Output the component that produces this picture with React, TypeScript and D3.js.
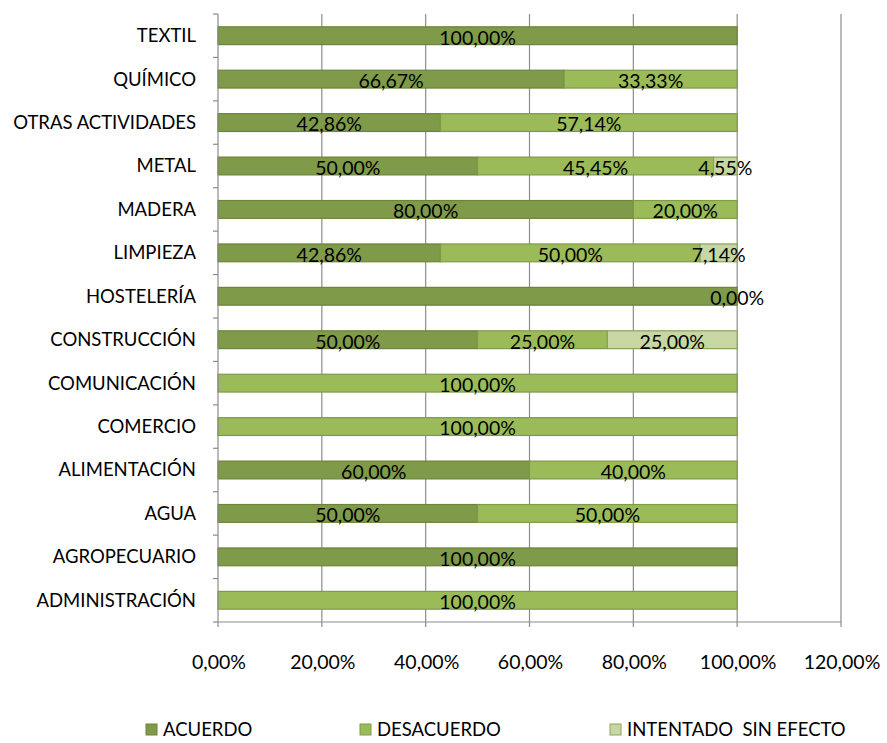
import React from "react";
import * as d3 from "d3";

const categories = [
  "TEXTIL",
  "QUÍMICO",
  "OTRAS ACTIVIDADES",
  "METAL",
  "MADERA",
  "LIMPIEZA",
  "HOSTELERÍA",
  "CONSTRUCCIÓN",
  "COMUNICACIÓN",
  "COMERCIO",
  "ALIMENTACIÓN",
  "AGUA",
  "AGROPECUARIO",
  "ADMINISTRACIÓN",
];

// null = no segment in that category
const acuerdo: (number | null)[] = [100, 66.67, 42.86, 50, 80, 42.86, 100, 50, null, null, 60, 50, 100, null];
const desacuerdo: (number | null)[] = [null, 33.33, 57.14, 45.45, 20, 50, null, 25, 100, 100, 40, 50, null, 100];
const intentado: (number | null)[] = [null, null, null, 4.55, null, 7.14, 0, 25, null, null, null, null, null, null];

const seriesNames = ["ACUERDO", "DESACUERDO", "INTENTADO  SIN EFECTO"];
const seriesValues = [acuerdo, desacuerdo, intentado];
const seriesColors = ["#7f9a48", "#9bbb59", "#c6d7a3"];
const seriesStroke = ["#6c843a", "#7f9a48", "#8aa35a"];
// labels hidden in the original (overlapping)
const hiddenLabels = ["HOSTELERÍA|ACUERDO"];

const xTicks = [0, 20, 40, 60, 80, 100, 120];

const fmt = (v: number) => v.toFixed(2).replace(".", ",") + "%";

export default function App() {
  const W = 887, H = 743;
  const left = 218, right = 841, top = 14, bottom = 622;
  const x = d3.scaleLinear().domain([0, 120]).range([left, right]);
  const y = d3.scaleBand<string>().domain(categories).range([top, bottom]).paddingInner(0.59).paddingOuter(0.295);
  const band = d3.scaleBand<string>().domain(categories).range([top, bottom]);
  const font = "Lato, 'Open Sans', sans-serif";
  const grid = "#8c8c8c";

  const segments: any[] = [];
  categories.forEach((c, i) => {
    let acc = 0;
    seriesValues.forEach((arr, s) => {
      const v = arr[i];
      if (v === null) return;
      segments.push({ c, s, v, x0: acc, x1: acc + v });
      acc += v;
    });
  });

  return (
    <svg width={W} height={H} style={{ position: "absolute", left: 0, top: 0, background: "#fff" }} fontFamily={font}>
      {xTicks.slice(1).map((t) => (
        <line key={"g" + t} x1={x(t)} x2={x(t)} y1={top} y2={bottom} stroke={grid} strokeWidth={1.2} />
      ))}
      {segments.map((d, k) => (
        <rect
          key={"r" + k}
          x={x(d.x0)}
          y={y(d.c)!}
          width={Math.max(0, x(d.x1) - x(d.x0))}
          height={y.bandwidth()}
          fill={seriesColors[d.s]}
          stroke={d.v > 0 ? seriesStroke[d.s] : "none"}
          strokeWidth={1.2}
        />
      ))}
      <line x1={left} x2={left} y1={top} y2={bottom} stroke={grid} strokeWidth={1.2} />
      {categories.map((c) => (
        <line key={"yt" + c} x1={left - 5} x2={left} y1={band(c)!} y2={band(c)!} stroke={grid} strokeWidth={1.2} />
      ))}
      <line x1={left - 5} x2={left} y1={bottom} y2={bottom} stroke={grid} strokeWidth={1.2} />
      <line x1={left} x2={right} y1={bottom} y2={bottom} stroke={grid} strokeWidth={1.2} />
      {xTicks.map((t) => (
        <line key={"xt" + t} x1={x(t)} x2={x(t)} y1={bottom} y2={bottom + 5} stroke={grid} strokeWidth={1.2} />
      ))}
      {categories.map((c) => (
        <text key={"cl" + c} x={196} y={band(c)! + band.bandwidth() / 2} dy="0.35em" textAnchor="end" fontSize={18.5} fill="#000">
          {c}
        </text>
      ))}
      {xTicks.map((t) => (
        <text key={"xl" + t} x={x(t) + 1} y={662} dy="0.35em" textAnchor="middle" fontSize={19.5} fill="#000">
          {fmt(t)}
        </text>
      ))}
      {segments
        .filter((d) => !hiddenLabels.includes(d.c + "|" + seriesNames[d.s]))
        .map((d, k) => (
          <text
            key={"dl" + k}
            x={(x(d.x0) + x(d.x1)) / 2}
            y={y(d.c)! + y.bandwidth() / 2 + 2}
            dy="0.35em"
            textAnchor="middle"
            fontSize={19.5}
            fill="#000"
          >
            {fmt(d.v)}
          </text>
        ))}
      {[146, 360, 610].map((lx, s) => (
        <g key={"lg" + s}>
          <rect x={lx} y={724} width={11} height={11} fill={seriesColors[s]} stroke={seriesStroke[s]} strokeWidth={1} />
          <text x={lx + 17} y={729.5} dy="0.35em" fontSize={18.5} fill="#000" style={{ whiteSpace: "pre" }}>
            {seriesNames[s]}
          </text>
        </g>
      ))}
    </svg>
  );
}
